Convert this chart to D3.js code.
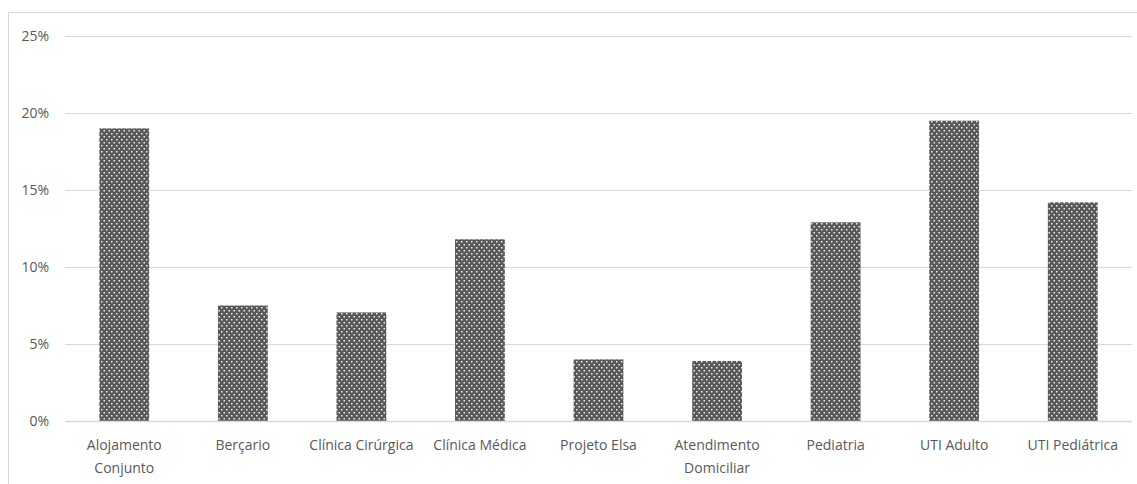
<!DOCTYPE html>
<html>
<head>
<meta charset="utf-8">
<script src="https://cdn.jsdelivr.net/npm/d3@7"></script>
<style>
  html, body { margin: 0; padding: 0; background: #fff; }
  svg { display: block; }
  text { font-family: "Open Sans", "Noto Sans", sans-serif; fill: #595959; }
</style>
</head>
<body>
<svg id="chart" width="1137" height="484"></svg>
<script>
const categories = ["Alojamento Conjunto", "Berçario", "Clínica Cirúrgica", "Clínica Médica", "Projeto Elsa", "Atendimento Domiciliar", "Pediatria", "UTI Adulto", "UTI Pediátrica"];
const labelLines = [["Alojamento", "Conjunto"], ["Berçario"], ["Clínica Cirúrgica"], ["Clínica Médica"], ["Projeto Elsa"], ["Atendimento", "Domiciliar"], ["Pediatria"], ["UTI Adulto"], ["UTI Pediátrica"]];
const values = [0.190, 0.075, 0.0705, 0.118, 0.040, 0.039, 0.129, 0.195, 0.142];
const yTicks = [0, 0.05, 0.10, 0.15, 0.20, 0.25];

const svg = d3.select("#chart");
const W = 1137, H = 484;
const margin = { left: 65, right: 5, top: 36, bottom: 63 };

// chart area border (left and top)
svg.append("path")
  .attr("d", `M8.5,${H} V12.5 H${W}`)
  .attr("fill", "none").attr("stroke", "#d9d9d9").attr("stroke-width", 1);

const defs = svg.append("defs");
const pat = defs.append("pattern")
  .attr("id", "dots").attr("patternUnits", "userSpaceOnUse")
  .attr("width", 5).attr("height", 6);
pat.append("rect").attr("width", 5).attr("height", 6).attr("fill", "#595959");
pat.append("rect").attr("x", 1).attr("y", 1).attr("width", 1.5).attr("height", 1.5).attr("fill", "#ececec");
pat.append("rect").attr("x", 3.5).attr("y", 4).attr("width", 1.5).attr("height", 1.5).attr("fill", "#ececec");

const x = d3.scaleBand().domain(categories)
  .range([margin.left, W - margin.right])
  .paddingInner(0.58).paddingOuter(0.29);
const y = d3.scaleLinear().domain([0, 0.25]).range([H - margin.bottom, margin.top]);

// gridlines
const yAxis = d3.axisLeft(y).tickValues(yTicks).tickFormat(d3.format(".0%"))
  .tickSize(-(W - margin.right - margin.left)).tickPadding(16);
const gy = svg.append("g").attr("transform", `translate(${margin.left},0)`).call(yAxis);
gy.select(".domain").remove();
gy.selectAll(".tick line").attr("stroke", "#d9d9d9").attr("stroke-width", 1);
gy.selectAll(".tick text").attr("font-size", 14).attr("fill", "#595959")
  .style("font-family", "'Open Sans', sans-serif");

// bars
svg.append("g").selectAll("rect").data(values).join("rect")
  .attr("x", (d, i) => x(categories[i]))
  .attr("y", d => y(d))
  .attr("width", x.bandwidth())
  .attr("height", d => y(0) - y(d))
  .attr("fill", "url(#dots)");

// baseline
svg.append("line")
  .attr("x1", margin.left).attr("x2", W - margin.right)
  .attr("y1", y(0) + 0.5).attr("y2", y(0) + 0.5)
  .attr("stroke", "#d9d9d9").attr("stroke-width", 1.3);

// x labels
const xl = svg.append("g").selectAll("text").data(categories).join("text")
  .attr("text-anchor", "middle")
  .attr("font-size", 14)
  .attr("transform", d => `translate(${x(d) + x.bandwidth() / 2},${y(0) + 29})`);
xl.each(function(d, i) {
  const t = d3.select(this);
  labelLines[i].forEach((ln, j) => {
    t.append("tspan").attr("x", 0).attr("y", j * 23).text(ln);
  });
});
</script>
</body>
</html>
